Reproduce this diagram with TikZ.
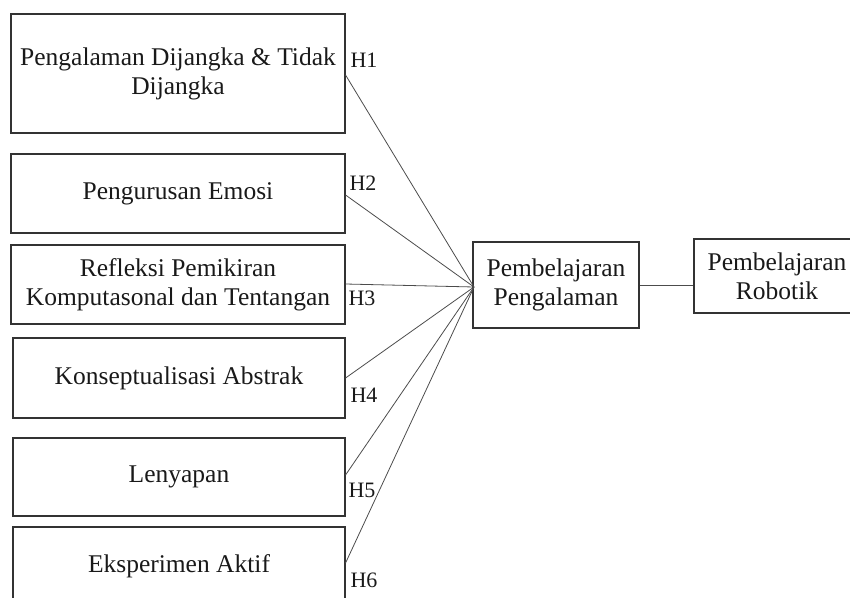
\documentclass[tikz,border=0pt]{standalone}
\usepackage{fontspec}
\setmainfont{Liberation Serif}
\begin{document}
\begin{tikzpicture}[x=1pt,y=-1pt,
  box/.style={draw=black!80, line width=1.1pt, inner sep=0pt, align=center,
    font=\fontsize{25.5}{29}\selectfont, text=black!90},
  link/.style={draw=black!70, line width=0.8pt},
  hyp/.style={inner sep=0pt, font=\fontsize{22}{24}\selectfont, text=black!90}]
\useasboundingbox (0,0) rectangle (850,597);
\clip (0,0) rectangle (850,597);

% independent variables
\node[box, minimum width=334pt, minimum height=119pt] (b1) at (178,73.5)
  {Pengalaman Dijangka \& Tidak\\Dijangka};
\node[box, minimum width=334pt, minimum height=79pt] (b2) at (178,193.5)
  {Pengurusan Emosi};
\node[box, minimum width=334pt, minimum height=79pt] (b3) at (178,284.5)
  {Refleksi Pemikiran\\Komputasonal dan Tentangan};
\node[box, minimum width=332pt, minimum height=80pt] (b4) at (179,378)
  {Konseptualisasi Abstrak};
\node[box, minimum width=332pt, minimum height=78pt] (b5) at (179,477)
  {Lenyapan};
\node[box, minimum width=332pt, minimum height=78pt] (b6) at (179,566)
  {Eksperimen Aktif};

% mediator and outcome
\node[box, minimum width=166pt, minimum height=86pt] (pp) at (556,285)
  {Pembelajaran\\Pengalaman};
\node[box, minimum width=166pt, minimum height=74pt] (pr) at (777,276)
  {Pembelajaran\\Robotik};

% meeting point of the hypothesis paths
\coordinate (conv) at (474,287);

\draw[link] (b1.east |- 0,75) -- (conv);
\draw[link] (b2.east |- 0,195) -- (conv);
\draw[link] (b3.east |- 0,284) -- (conv);
\draw[link] (b4.east |- 0,378) -- (conv);
\draw[link] (b5.east |- 0,475) -- (conv);
\draw[link] (b6.east |- 0,563) -- (conv);
\draw[link] (pp.east |- 0,285) -- (pr.west |- 0,285);

% hypothesis labels
\node[hyp] (h1) at (364,60) {H1};
\node[hyp] (h2) at (363,183) {H2};
\node[hyp] (h3) at (362,298) {H3};
\node[hyp] (h4) at (364,395) {H4};
\node[hyp] (h5) at (362,490) {H5};
\node[hyp] (h6) at (364,580) {H6};
\end{tikzpicture}
\end{document}
